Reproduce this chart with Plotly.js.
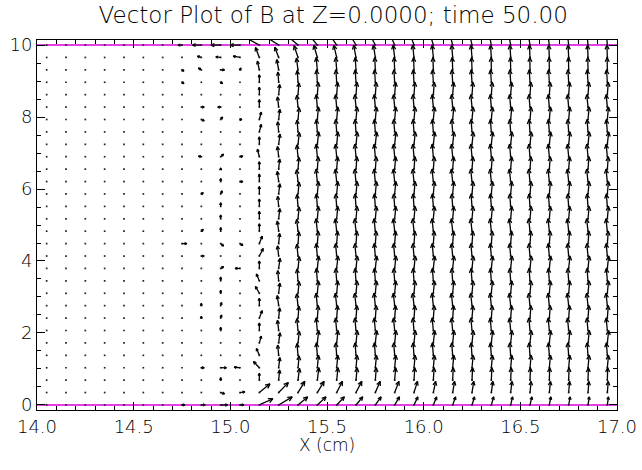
<!DOCTYPE html>
<html><head><meta charset="utf-8">
<script src="https://cdn.plot.ly/plotly-3.0.1.min.js"></script>
<style>html,body{margin:0;padding:0;background:#fff}</style>
</head><body><div id="chart" style="width:642px;height:470px"></div>
<script>
// grid (cell centres in x, rows 0..10 in y)
const colX = [14.05,14.15,14.25,14.35,14.45,14.55,14.65,14.75,14.85,14.95,15.05,15.15,15.25,15.35,15.45,15.55,15.65,15.75,15.85,15.95,16.05,16.15,16.25,16.35,16.45,16.55,16.65,16.75,16.85,16.95];
const rowY = [0,0.345,0.690,1.034,1.379,1.724,2.069,2.414,2.759,3.103,3.448,3.793,4.138,4.483,4.828,5.172,5.517,5.862,6.207,6.552,6.897,7.241,7.586,7.931,8.276,8.621,8.966,9.310,9.655,10.0];

// swirl columns x=14.75 .. 15.15, rows j=0..29 (components as fraction of max)
const u1475 = [0.15,0,0,0,0,0,0,0,0,0,0,0,0,0.25,0,0,0,0,0,0,0,0,0,0,0,0,0.1,0.1,0.05,-0.2];
const v1475 = [0,0,0,0,0,0,0,0,0,0,0,0,0,0,0,0,0,0,0,0,0,0,0,0,0.08,0,-0.1,-0.1,0,0];
const u1485 = [0.2,0,0,0.15,0,0,0,0,0,0,0,0,0.15,0,0.1,0.05,0,0.1,0,0,-0.15,0,0,0.15,0.15,0,0,-0.15,-0.2,-0.45];
const v1485 = [0,0,0,0,0,0,0,0.15,0.2,0,0,0,0,0,0.15,0.05,0,0.1,0,0,0.05,0,0,-0.1,0,0,0,0.15,0.1,0];
const u1495 = [0.35,0.2,0,0.3,0,0,0,0.05,0.05,0,0,0.15,0,0.15,0,0,0,0.08,0,0,0.15,0,0,0.1,-0.15,0,0.1,0.2,-0.25,-0.5];
const v1495 = [0,-0.1,0.2,0,0.05,0.05,0.25,0.25,0.25,0.25,0.3,0.15,0.05,-0.2,0.3,0.3,0.3,0.25,0.25,0.1,0.2,0.05,0,0.2,0,0.05,-0.1,0,0.05,0];
const u1505 = [0.2,0.25,0,-0.3,0,0,0,0,0,0,0,-0.25,0,0.15,0,0,0,0,0.15,0,0.15,0,0,0.1,0,0,0,0.05,-0.35,-0.5];
const v1505 = [0,0.05,0,0.05,0,0,0,0,0,0,0,0,0,-0.15,0,0,0,0,0,0,0.05,0,0,0,0,0,0,0.15,0.1,0];
const u1515 = [0.7,0.55,0,-0.3,-0.15,0.1,0,0.15,0,-0.2,-0.15,0,0.2,0.15,0,0,0,0,0,0,-0.1,0,0.1,0.1,0,0,0,-0.1,-0.2,-0.9];
const v1515 = [0.5,0.7,0.55,0.5,0.55,0.55,0.6,0.6,0.6,0.55,0.55,0.6,0.6,0.6,0.6,0.6,0.6,0.6,0.6,0.6,0.6,0.6,0.6,0.6,0.6,0.6,0.6,0.7,0.8,0.75];

// columns x=15.25 .. 16.95 (18 columns)
const colV   = [0.82,0.95,1,1,1,1,1,1,1,1,1,1,1,1,1,1,1,1];
const top29U = [-0.8,-0.6,-0.42,-0.35,-0.3,-0.27,-0.22,-0.18,-0.15,-0.13,-0.11,-0.1,-0.09,-0.08,-0.07,-0.06,-0.05,-0.04];
const top29V = [0.8,0.8,0.8,0.8,0.8,0.8,0.8,0.8,0.8,0.8,0.8,0.8,0.8,0.8,0.8,0.8,0.8,0.8];
const top28U = [-0.2,-0.2,-0.18,-0.15,-0.12,-0.1,-0.08,-0.07,-0.06,-0.05,-0.05,-0.04,-0.04,-0.03,-0.03,-0.03,-0.02,-0.02];
const top27U = [-0.1,-0.08,-0.06,-0.05,-0.04,-0.03,-0.03,-0.02,-0.02,-0.02,-0.02,-0.01,-0.01,-0.01,-0.01,-0.01,-0.01,-0.01];
const bot0U  = [0.7,0.5,0.45,0.4,0.35,0.3,0.25,0.2,0.17,0.15,0.13,0.12,0.1,0.1,0.08,0.08,0.07,0.06];
const bot0V  = [0.65,0.65,0.65,0.65,0.65,0.65,0.65,0.65,0.65,0.65,0.65,0.65,0.65,0.65,0.65,0.65,0.65,0.65];
const bot1U  = [0.5,0.35,0.35,0.3,0.3,0.25,0.22,0.18,0.12,0.1,0.09,0.08,0.07,0.06,0.06,0.05,0.05,0.05];
const bot1V  = [0.8,0.9,0.9,0.9,0.9,0.9,0.9,0.9,0.9,0.9,0.9,0.9,0.9,0.9,0.9,0.9,0.9,0.9];
const bot2U  = [0.05,0.08,0.08,0.07,0.06,0.05,0.05,0.04,0.04,0.03,0.03,0.03,0.03,0.02,0.02,0.02,0.02,0.02];
const rowWiggle = [0,0,0,0.06,-0.05,0.07,-0.06,0.05,-0.07,0.06,-0.05,0.07,-0.06,0.05,-0.07,0.06,-0.05,0.06,-0.07,0.05,-0.06,0.07,-0.05,0.06,-0.06,0.05,-0.04,0,0,0];

const swirlU = [u1475,u1485,u1495,u1505,u1515];
const swirlV = [v1475,v1485,v1495,v1505,v1515];

function field(i,j){
  if(i<7) return [0,0];
  if(i<=11) return [swirlU[i-7][j], swirlV[i-7][j]];
  const k=i-12;
  if(j===29) return [top29U[k], top29V[k]];
  if(j===28) return [top28U[k], colV[k]];
  if(j===27) return [top27U[k], colV[k]];
  if(j===0) return [bot0U[k], bot0V[k]];
  if(j===1) return [bot1U[k], bot1V[k]];
  if(j===2) return [bot2U[k], colV[k]];
  return [rowWiggle[j], colV[k]];
}

const W=642,H=470,M={l:37,r:25,t:40,b:60};
const xRange=[14,17], yRange=[-0.14,10.14];
const pxX=(W-M.l-M.r)/(xRange[1]-xRange[0]);
const pxY=(H-M.t-M.b)/(yRange[1]-yRange[0]);
const stepX=colX[1]-colX[0], stepY=rowY[1]-rowY[0];

const ax=[], ay=[], dxs=[], dys=[];
const hAng=25*Math.PI/180;
for(let j=0;j<rowY.length;j++){
  for(let i=0;i<colX.length;i++){
    const x0=colX[i], y0=rowY[j];
    dxs.push(x0); dys.push(y0);
    const [u,v]=field(i,j);
    const dx=u*stepX, dy=v*stepY;
    const ex=dx*pxX, ey=dy*pxY, L=Math.hypot(ex,ey);
    if(L<1.2) continue;
    const x1=x0+dx, y1=y0+dy;
    ax.push(x0,x1,null); ay.push(y0,y1,null);
    const h=Math.min(5,Math.max(2.5,0.38*L));
    const cx=ex/L, cy=ey/L, px=-cy, py=cx;
    const c=Math.cos(hAng), s=Math.sin(hAng);
    const b1x=-h*(c*cx+s*px), b1y=-h*(c*cy+s*py);
    const b2x=-h*(c*cx-s*px), b2y=-h*(c*cy-s*py);
    ax.push(x1+b1x/pxX, x1, x1+b2x/pxX, null);
    ay.push(y1+b1y/pxY, y1, y1+b2y/pxY, null);
  }
}

const traces=[
  {type:'scatter',mode:'lines',x:[14,17],y:[0,0],line:{color:'#dd00dd',width:1.6},hoverinfo:'skip'},
  {type:'scatter',mode:'lines',x:[14,17],y:[10,10],line:{color:'#dd00dd',width:1.6},hoverinfo:'skip'},
  {type:'scatter',mode:'markers',x:dxs,y:dys,marker:{color:'#222',size:1.7,symbol:'square',line:{width:0}},hoverinfo:'skip'},
  {type:'scatter',mode:'lines',x:ax,y:ay,line:{color:'#000',width:1.3},connectgaps:false,hoverinfo:'skip'}
];

const fontFam='"DejaVu Sans", sans-serif';
const layout={
  width:W,height:H,margin:M,showlegend:false,
  paper_bgcolor:'#fff',plot_bgcolor:'#fff',
  font:{family:fontFam,color:'#000',size:18,weight:300},
  title:{text:'Vector Plot of B at Z=0.0000; time 50.00',font:{family:fontFam,size:23,color:'#000',weight:300},
         xref:'container',x:0.519,xanchor:'center',yref:'container',y:1-15/H,yanchor:'middle'},
  xaxis:{range:xRange,tickvals:[14,14.5,15,15.5,16,16.5,17],ticktext:['14.0','14.5','15.0','15.5','16.0','16.5','17.0'],
         ticks:'inside',ticklen:8,tickwidth:1,tickcolor:'#000',
         minor:{dtick:0.1,ticks:'inside',ticklen:4,tickwidth:1,tickcolor:'#000',showgrid:false},
         showline:true,linecolor:'#000',linewidth:1,mirror:'ticks',showgrid:false,zeroline:false,
         tickfont:{size:18,weight:300}},
  yaxis:{range:yRange,tickvals:[0,2,4,6,8,10],ticktext:['0','2','4','6','8','10'],
         ticks:'inside',ticklen:8,tickwidth:1,tickcolor:'#000',
         minor:{tickvals:[0.5,1,1.5,2.5,3,3.5,4.5,5,5.5,6.5,7,7.5,8.5,9,9.5],ticks:'inside',ticklen:4,tickwidth:1,tickcolor:'#000',showgrid:false},
         showline:true,linecolor:'#000',linewidth:1,mirror:'ticks',showgrid:false,zeroline:false,
         tickfont:{size:18,weight:300}},
  annotations:[{text:'X (cm)',xref:'paper',yref:'paper',x:0.5,y:-35/(H-M.t-M.b),xanchor:'center',yanchor:'middle',
                showarrow:false,font:{family:fontFam,size:17,color:'#000',weight:300}}]
};
Plotly.newPlot('chart',traces,layout,{staticPlot:true,displayModeBar:false});
</script></body></html>
